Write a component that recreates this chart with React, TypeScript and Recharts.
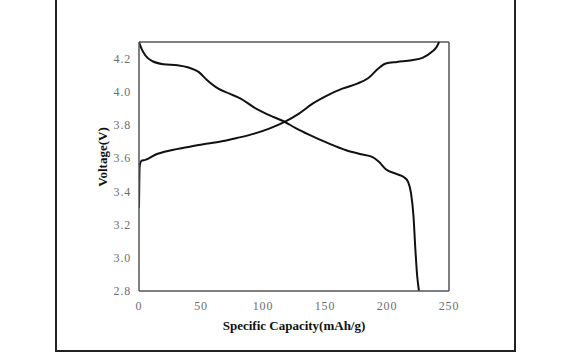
import { LineChart, Line, XAxis, YAxis, ReferenceLine } from "recharts";

// charge curve (rising), capacity mAh/g vs voltage V
const chargeCap = [0, 0.5, 2, 5, 14, 26, 40, 52, 64, 79, 93, 105, 117, 129, 140, 152, 164, 176, 185, 193, 199, 208, 220, 229, 236, 240, 242];
const chargeV = [3.3, 3.55, 3.585, 3.59, 3.624, 3.648, 3.668, 3.684, 3.698, 3.722, 3.748, 3.778, 3.817, 3.869, 3.929, 3.979, 4.019, 4.049, 4.083, 4.14, 4.17, 4.18, 4.19, 4.206, 4.24, 4.27, 4.3];

// discharge curve (falling)
const dischargeCap = [0, 2, 5, 11, 20, 31, 40, 48, 55, 64, 73, 82, 93, 105, 117, 126, 137, 152, 167, 179, 188, 193.5, 199, 208, 214, 217, 219.4, 221.4, 222.9, 224.4, 225.8];
const dischargeV = [4.3, 4.26, 4.22, 4.184, 4.166, 4.16, 4.146, 4.12, 4.07, 4.019, 3.989, 3.959, 3.905, 3.859, 3.821, 3.783, 3.742, 3.692, 3.648, 3.624, 3.608, 3.578, 3.534, 3.504, 3.484, 3.458, 3.388, 3.247, 3.047, 2.886, 2.8];

const xTicks = [0, 50, 100, 150, 200, 250];
const yTicks = [2.8, 3.0, 3.2, 3.4, 3.6, 3.8, 4.0, 4.2];

const charge = chargeCap.map((c, i) => ({ cap: c, v: chargeV[i] }));
const discharge = dischargeCap.map((c, i) => ({ cap: c, v: dischargeV[i] }));

const tickStyle = { fontSize: 12, fill: "#6e6e6e", fontFamily: "Liberation Serif, serif", letterSpacing: 0.8 };
const titleStyle = { fontSize: 13, fontWeight: 700, fill: "#111", fontFamily: "Liberation Serif, serif" };

export default function App() {
  return (
    <div style={{ position: "absolute", left: 0, top: 0, width: 572, height: 352, background: "#fff", overflow: "hidden" }}>
      <div
        style={{
          position: "absolute",
          left: 55,
          top: -4,
          width: 461,
          height: 356,
          border: "2px solid #222",
          boxSizing: "border-box",
        }}
      />
      <div style={{ position: "absolute", left: 0, top: 0 }}>
        <LineChart width={572} height={352} margin={{ top: 42, right: 123, bottom: 31, left: 89 }}>
          <XAxis
            type="number"
            dataKey="cap"
            domain={[0, 250]}
            ticks={xTicks}
            tickLine={false}
            tickMargin={4}
            height={30}
            axisLine={{ stroke: "#555", strokeWidth: 1.5 }}
            tick={tickStyle}
            allowDataOverflow
            label={{
              content: () => (
                <text x={294} y={325} textAnchor="middle" dominantBaseline="central" style={titleStyle}>
                  Specific Capacity(mAh/g)
                </text>
              ),
            }}
          />
          <YAxis
            type="number"
            dataKey="v"
            domain={[2.8, 4.3]}
            ticks={yTicks}
            width={50}
            tickLine={false}
            axisLine={{ stroke: "#555", strokeWidth: 1.5 }}
            tick={tickStyle}
            tickFormatter={(v: number) => v.toFixed(1)}
            allowDataOverflow
            label={{
              content: () => (
                <text
                  x={102}
                  y={157}
                  transform="rotate(-90 102 157)"
                  textAnchor="middle"
                  dominantBaseline="central"
                  style={titleStyle}
                >
                  Voltage(V)
                </text>
              ),
            }}
          />
          <ReferenceLine y={4.3} stroke="#555" strokeWidth={1.5} />
          <ReferenceLine x={250} stroke="#555" strokeWidth={1.5} />
          <Line
            data={charge}
            dataKey="v"
            type="monotone"
            stroke="#111"
            strokeWidth={2}
            dot={false}
            isAnimationActive={false}
          />
          <Line
            data={discharge}
            dataKey="v"
            type="monotone"
            stroke="#111"
            strokeWidth={2}
            dot={false}
            isAnimationActive={false}
          />
        </LineChart>
      </div>
    </div>
  );
}
